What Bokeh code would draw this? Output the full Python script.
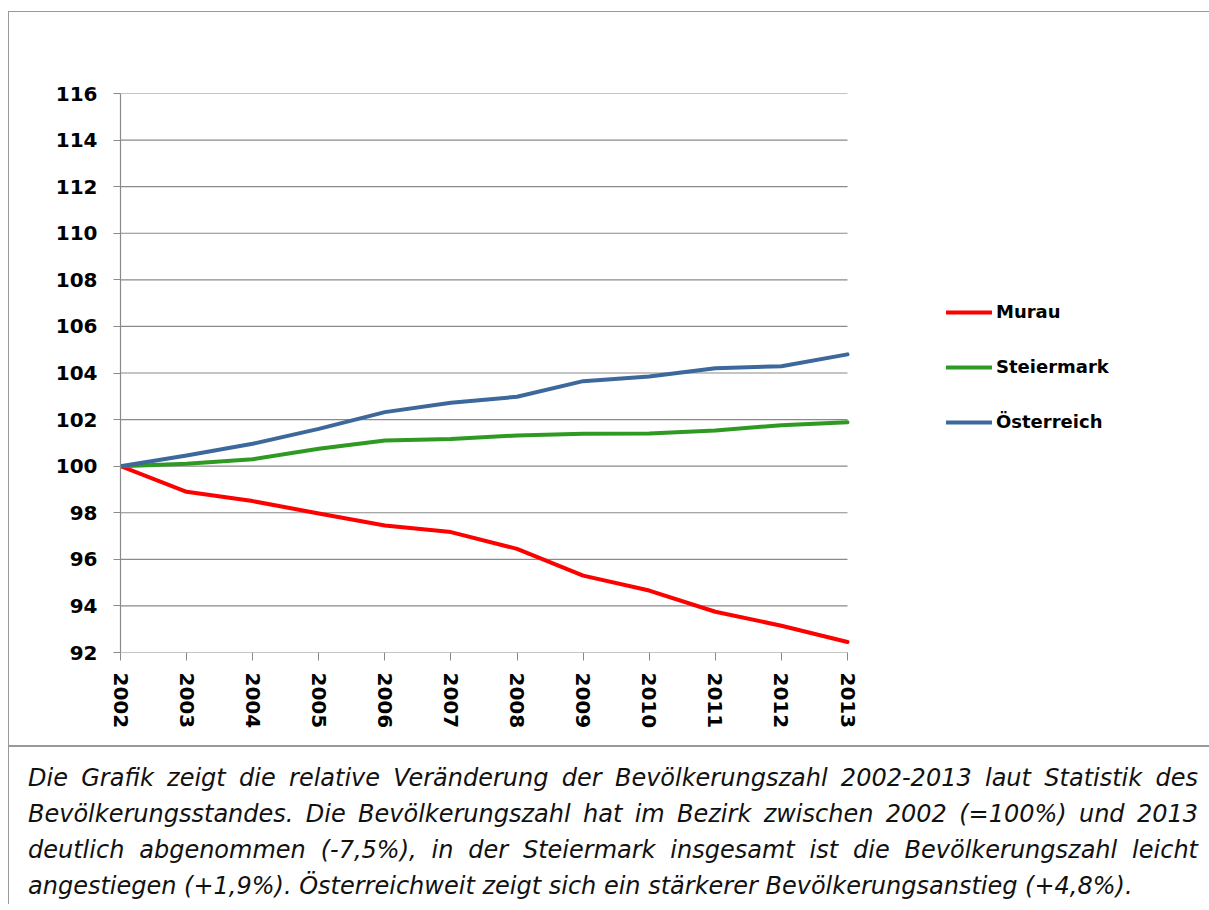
from bokeh.plotting import figure
from bokeh.models import Range1d, Legend, LegendItem, FixedTicker, Div
from bokeh.layouts import column
from bokeh.embed import file_html
from bokeh.resources import INLINE

years = [2002, 2003, 2004, 2005, 2006, 2007, 2008, 2009, 2010, 2011, 2012, 2013]
murau = [100.0, 98.9, 98.5, 97.97, 97.45, 97.17, 96.45, 95.3, 94.66, 93.75, 93.15, 92.45]
steiermark = [100.0, 100.1, 100.3, 100.75, 101.1, 101.17, 101.32, 101.39, 101.4, 101.53, 101.76, 101.89]
oesterreich = [100.0, 100.46, 100.96, 101.6, 102.32, 102.72, 102.98, 103.65, 103.85, 104.2, 104.29, 104.8]
y_ticks = [92, 94, 96, 98, 100, 102, 104, 106, 108, 110, 112, 114, 116]
series_names = ["Murau", "Steiermark", "Österreich"]
series_colors = ["#ff0000", "#2f9a22", "#3d689b"]
caption = ("Die Grafik zeigt die relative Veränderung der Bevölkerungszahl 2002-2013 laut Statistik des "
           "Bevölkerungsstandes. Die Bevölkerungszahl hat im Bezirk zwischen 2002 (=100%) und 2013 "
           "deutlich abgenommen (-7,5%), in der Steiermark insgesamt ist die Bevölkerungszahl leicht "
           "angestiegen (+1,9%). Österreichweit zeigt sich ein stärkerer Bevölkerungsanstieg (+4,8%).")

GRID = "#8a8a8a"

# layout in pixels: the plotting frame spans to the right edge so the legend sits inside it;
# the years 2002-2013 occupy the left 727 px of the 1089 px wide frame
FIG_W, BORDER_L = 1200, 111
FRAME_W = FIG_W - BORDER_L
DATA_W = 727
x_end = years[0] + (years[-1] - years[0]) * FRAME_W / DATA_W

p = figure(width=FIG_W, height=733, output_backend="svg", toolbar_location=None,
           x_range=Range1d(years[0], x_end), y_range=Range1d(92, 116),
           min_border_left=BORDER_L, min_border_right=0, min_border_top=81, min_border_bottom=93)
p.outline_line_color = None
p.background_fill_color = "white"
p.border_fill_color = "white"

p.xgrid.grid_line_color = None
p.ygrid.grid_line_color = None

# horizontal grid lines, limited to the data's years
p.segment(x0=[years[0]] * len(y_ticks), x1=[years[-1]] * len(y_ticks), y0=y_ticks, y1=y_ticks,
          line_color=GRID, line_width=1.2)

p.yaxis.ticker = FixedTicker(ticks=y_ticks)
p.yaxis.minor_tick_line_color = None
p.yaxis.major_tick_in = 0
p.yaxis.major_tick_out = 7
p.yaxis.major_tick_line_color = GRID
p.yaxis.axis_line_color = GRID
p.yaxis.axis_line_width = 1.2
p.yaxis.major_label_standoff = 16
p.yaxis.major_label_text_font = "DejaVu Sans"
p.yaxis.major_label_text_font_style = "bold"
p.yaxis.major_label_text_font_size = "20px"
p.yaxis.major_label_text_color = "black"

p.xaxis.ticker = FixedTicker(ticks=years)
p.xaxis.minor_tick_line_color = None
p.xaxis.major_tick_in = 0
p.xaxis.major_tick_out = 8
p.xaxis.major_tick_line_color = GRID
p.xaxis.axis_line_color = None
p.xaxis.major_label_orientation = "vertical"
p.xaxis.major_label_standoff = 12
p.xaxis.major_label_text_font = "DejaVu Sans"
p.xaxis.major_label_text_font_style = "bold"
p.xaxis.major_label_text_font_size = "20px"
p.xaxis.major_label_text_color = "black"

items = []
for name, vals, col in zip(series_names, [murau, steiermark, oesterreich], series_colors):
    r = p.line(years, vals, line_color=col, line_width=4, line_join="round", line_cap="round")
    items.append(LegendItem(label=name, renderers=[r]))

legend = Legend(items=items, location=(826, 220), orientation="vertical",
                glyph_width=46, glyph_height=20, label_height=20, spacing=34,
                label_standoff=4, padding=0, margin=0,
                border_line_color=None, background_fill_alpha=0,
                label_text_font="DejaVu Sans", label_text_font_style="bold",
                label_text_font_size="18px", label_text_color="black")
p.add_layout(legend)

div = Div(width=1200, margin=0,
          text=('<div style="font-family: \'DejaVu Sans\'; font-style: italic; font-size: 24px; '
                'line-height: 36px; text-align: justify; color: #111; '
                'padding: 13px 11px 0px 19px; box-sizing: border-box; width: 1200px;">'
                + caption + '</div>'),
          styles={"border-top": "2px solid #999999"})

layout = column(p, div, margin=(11, 0, 0, 8),
                styles={"border-top": "1px solid #999999", "border-left": "1px solid #999999"})

open("out.html", "w").write(file_html(layout, INLINE))
